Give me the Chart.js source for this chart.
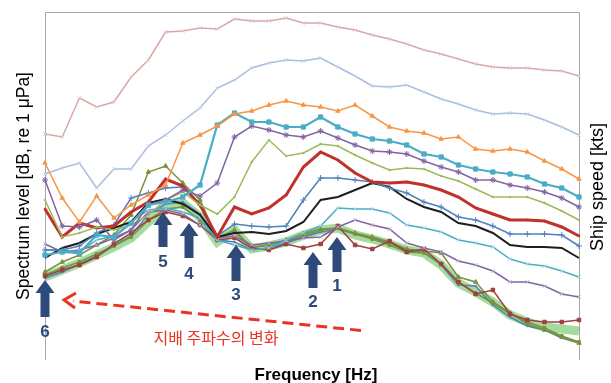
<!DOCTYPE html>
<html>
<head>
<meta charset="utf-8">
<script src="https://cdn.jsdelivr.net/npm/chart.js@4.4.1/dist/chart.umd.min.js"></script>
<style>
  body { margin: 0; background: #fff; }
  #box { width: 611px; height: 383px; }
</style>
</head>
<body>
<div id="box"><canvas id="grafico" width="611" height="383"></canvas></div>
<script>
// ---------------- DADOS ----------------
// 1/3-octave bands (no tick labels in the figure)
const freqs = [10, 12.5, 16, 20, 25, 31.5, 40, 50, 63, 80, 100, 125, 160, 200, 250, 315,
    400, 500, 630, 800, 1000, 1250, 1600, 2000, 2500, 3150, 4000, 5000, 6300, 8000, 10000, 12500];

// relative spectrum level
const rosa = [226, 223, 262, 253, 258, 283, 300, 328, 329, 332, 331, 341, 339, 339, 342, 337,
    337, 333, 330, 325, 321, 316, 310, 306, 301, 296, 293, 292, 292, 290, 289, 284];
const azulClaro = [186, 192, 197, 172, 191, 191, 214, 225, 239, 252, 272, 280, 292, 297, 300, 299,
    302, 293, 284, 274, 273, 275, 268, 261, 256, 250, 246, 247, 246, 240, 233, 225];
const laranja = [197, 162, 138, 164, 142, 155, 165, 175, 217, 225, 234, 246, 249, 255, 259, 255,
    253, 249, 255, 244, 233, 229, 227, 221, 223, 211, 209, 211, 208, 199, 191, 181];
const ciano = [105, 108, 107, 125, 123, 137, 155, 158, 163, 175, 235, 247, 238, 238, 233, 233,
    243, 233, 226, 221, 219, 215, 206, 203, 195, 191, 188, 186, 183, 176, 172, 163];
const roxo = [180, 134, 133, 140, 120, 130, 155, 160, 170, 164, 177, 223, 234, 230, 225, 223,
    229, 222, 215, 209, 208, 206, 199, 193, 188, 180, 180, 175, 172, 168, 162, 153];
const verdeClaro = [160, 123, 127, 133, 130, 135, 145, 160, 168, 155, 146, 163, 198, 220, 204, 207,
    216, 214, 205, 197, 190, 192, 191, 184, 179, 171, 163, 163, 163, 157, 149, 140];
const vermelho = [151, 123, 137, 132, 134, 148, 158, 181, 174, 155, 123, 153, 146, 152, 165, 193,
    208, 200, 187, 178, 177, 178, 175, 170, 163, 152, 146, 140, 140, 139, 133, 124];
const azul = [110, 110, 114, 127, 135, 162, 167, 172, 173, 155, 124, 136, 134, 133, 134, 160,
    182, 182, 180, 178, 172, 167, 158, 153, 143, 140, 134, 126, 126, 126, 125, 114];
const preto = [102, 112, 117, 126, 132, 138, 157, 161, 156, 145, 123, 127, 128, 126, 129, 138,
    160, 163, 170, 177, 173, 161, 153, 148, 137, 134, 127, 115, 113, 113, 112, 102];
const cianoBaixo = [110, 110, 108, 120, 124, 138, 150, 152, 148, 142, 120, 115, 110, 112, 120, 127,
    134, 152, 151, 151, 147, 135, 132, 128, 120, 117, 113, 101, 96, 94, 89, 83];
const roxoBaixo = [116, 108, 110, 115, 122, 130, 148, 150, 146, 135, 122, 124, 115, 117, 119, 122,
    123, 133, 140, 135, 131, 117, 112, 108, 99, 95, 89, 78, 78, 74, 66, 63];
const marrom = [84, 90, 95, 103, 116, 127, 140, 148, 144, 135, 120, 122, 112, 110, 116, 112,
    116, 134, 115, 111, 119, 108, 111, 96, 78, 66, 70, 46, 40, 38, 38, 40];
const oliva = [88, 98, 105, 115, 125, 145, 188, 194, 177, 160, 122, 130, 112, 115, 120, 126,
    131, 132, 127, 123, 118, 111, 109, 107, 83, 78, 58, 47, 36, 30, 23, 17];
const olivaQuad = [85, 92, 98, 106, 114, 123, 140, 151, 153, 140, 122, 128, 113, 115, 119, 124,
    130, 132, 126, 121, 115, 108, 107, 96, 78, 67, 57, 46, 38, 32, 24, 18];
const azulBaixo = [82, 88, 96, 104, 114, 124, 146, 156, 158, 146, 120, 118, 110, 112, 117, 123,
    128, 131, 126, 122, 117, 110, 108, 95, 75, 74, 55, 43, 34, 30, 22, 17];
// dominant-frequency trend (green highlight)
const faixaVerde = [83, 90, 97, 105, 113, 122, 138, 153, 157, 143, 118, 130, 111, 114, 118, 125,
    130, 132, 125, 121, 116, 110, 107, 95, 77, 68, 58, 45, 38, 33, 31, 29];

// ---------------- ANOTACOES ----------------
const setas = [
    { txt: "1", x: 337, topo: 237, base: 272, yTxt: 286 },
    { txt: "2", x: 313, topo: 252, base: 288, yTxt: 302 },
    { txt: "3", x: 236, topo: 245, base: 281, yTxt: 295 },
    { txt: "4", x: 189, topo: 223, base: 258, yTxt: 274 },
    { txt: "5", x: 163, topo: 212, base: 247, yTxt: 262 },
    { txt: "6", x: 45, topo: 280, base: 317, yTxt: 332 }
];

function serie(dados, cor, largura, ponto, raio, corPonto) {
    return {
        data: dados,
        borderColor: cor,
        backgroundColor: corPonto || cor,
        pointBorderColor: corPonto || cor,
        borderWidth: largura,
        pointStyle: ponto,
        pointRadius: raio,
        pointBorderWidth: 1,
        tension: 0
    };
}

function desenharSeta(ctx, s) {
    const hw = 9.5, sw = 4.5, hh = 13;
    ctx.beginPath();
    ctx.moveTo(s.x, s.topo);
    ctx.lineTo(s.x + hw, s.topo + hh);
    ctx.lineTo(s.x + sw, s.topo + hh);
    ctx.lineTo(s.x + sw, s.base);
    ctx.lineTo(s.x - sw, s.base);
    ctx.lineTo(s.x - sw, s.topo + hh);
    ctx.lineTo(s.x - hw, s.topo + hh);
    ctx.closePath();
    ctx.fill();
}

const moldura = {
    id: "moldura",
    beforeDatasetsDraw(chart) {
        const { ctx, chartArea: a } = chart;
        ctx.save();
        ctx.strokeStyle = "#a6a6a6";
        ctx.lineWidth = 1;
        ctx.beginPath();
        ctx.moveTo(a.left + 0.5, a.bottom);
        ctx.lineTo(a.left + 0.5, a.top + 0.5);
        ctx.lineTo(a.right + 0.5, a.top + 0.5);
        ctx.lineTo(a.right + 0.5, a.bottom);
        ctx.stroke();
        ctx.restore();
    },
    afterDraw(chart) {
        const ctx = chart.ctx;
        ctx.save();

        // setas azuis
        ctx.fillStyle = "#2d4a7a";
        ctx.font = "bold 17px 'Liberation Sans', Arial, sans-serif";
        ctx.textAlign = "center";
        ctx.textBaseline = "middle";
        setas.forEach(s => {
            desenharSeta(ctx, s);
            ctx.fillText(s.txt, s.x, s.yTxt);
        });

        // seta vermelha tracejada
        ctx.strokeStyle = "#ea3323";
        ctx.lineWidth = 3;
        ctx.setLineDash([11, 6]);
        ctx.beginPath();
        ctx.moveTo(361, 330.5);
        ctx.lineTo(73, 301);
        ctx.stroke();
        ctx.setLineDash([]);
        ctx.lineJoin = "miter";
        ctx.beginPath();
        ctx.moveTo(76, 293);
        ctx.lineTo(64, 300);
        ctx.lineTo(75, 308);
        ctx.stroke();

        ctx.fillStyle = "#ea3323";
        ctx.font = "16px 'Noto Sans CJK KR', sans-serif";
        ctx.fillText("지배 주파수의 변화", 216, 338);

        // titulos dos eixos
        ctx.fillStyle = "#000";
        ctx.font = "bold 17px 'Liberation Sans', Arial, sans-serif";
        ctx.fillText("Frequency [Hz]", 316, 375);

        ctx.font = "17.5px 'Liberation Sans', Arial, sans-serif";
        ctx.translate(24, 186);
        ctx.rotate(-Math.PI / 2);
        ctx.fillText("Spectrum level [dB, re 1 μPa]", 0, 0);
        ctx.restore();

        ctx.save();
        ctx.fillStyle = "#000";
        ctx.font = "18px 'Liberation Sans', Arial, sans-serif";
        ctx.textAlign = "center";
        ctx.textBaseline = "middle";
        ctx.translate(598, 187);
        ctx.rotate(-Math.PI / 2);
        ctx.fillText("Ship speed [kts]", 0, 0);
        ctx.restore();
    }
};

// ---------------- GRAFICO ----------------
new Chart(document.getElementById("grafico"), {
    type: "line",
    data: {
        labels: freqs,
        datasets: [
            serie(rosa, "#d9a8a6", 1.5, "crossRot", 2.5, "#e6c4c4"),
            serie(azulClaro, "#a9bde0", 1.5, "crossRot", 2.5, "#c3d0ea"),
            serie(laranja, "#f79646", 1.5, "triangle", 2.5),
            serie(ciano, "#4bacc6", 2.2, "rect", 3),
            serie(roxo, "#8064a2", 1.5, "star", 3),
            serie(verdeClaro, "#9bbb59", 1.5, "circle", 0.8),
            serie(vermelho, "#c0312b", 3, "rect", 1),
            serie(azul, "#4f81bd", 1.5, "cross", 3),
            serie(preto, "#1e1e1e", 2, "circle", 0),
            serie(cianoBaixo, "#4bacc6", 1.5, "crossRot", 2.5, "#9fd3e2"),
            serie(roxoBaixo, "#8064a2", 1.5, "crossRot", 2.5, "#b7a6cc"),
            serie(marrom, "#a0403c", 1.5, "rect", 2.5),
            serie(oliva, "#77933c", 1.5, "triangle", 2.5),
            serie(olivaQuad, "#77933c", 1.5, "rect", 2),
            serie(azulBaixo, "#4f81bd", 1.5, "circle", 0.8),
            serie(faixaVerde, "rgba(92, 190, 80, 0.55)", 9, "circle", 0)
        ]
    },
    options: {
        responsive: false,
        animation: false,
        layout: { padding: { left: 45, right: 32, top: 12, bottom: 23 } },
        plugins: { legend: { display: false }, tooltip: { enabled: false } },
        scales: {
            x: { display: false, offset: false },
            y: { display: false, min: 0, max: 348 }
        }
    },
    plugins: [moldura]
});
</script>
</body>
</html>
